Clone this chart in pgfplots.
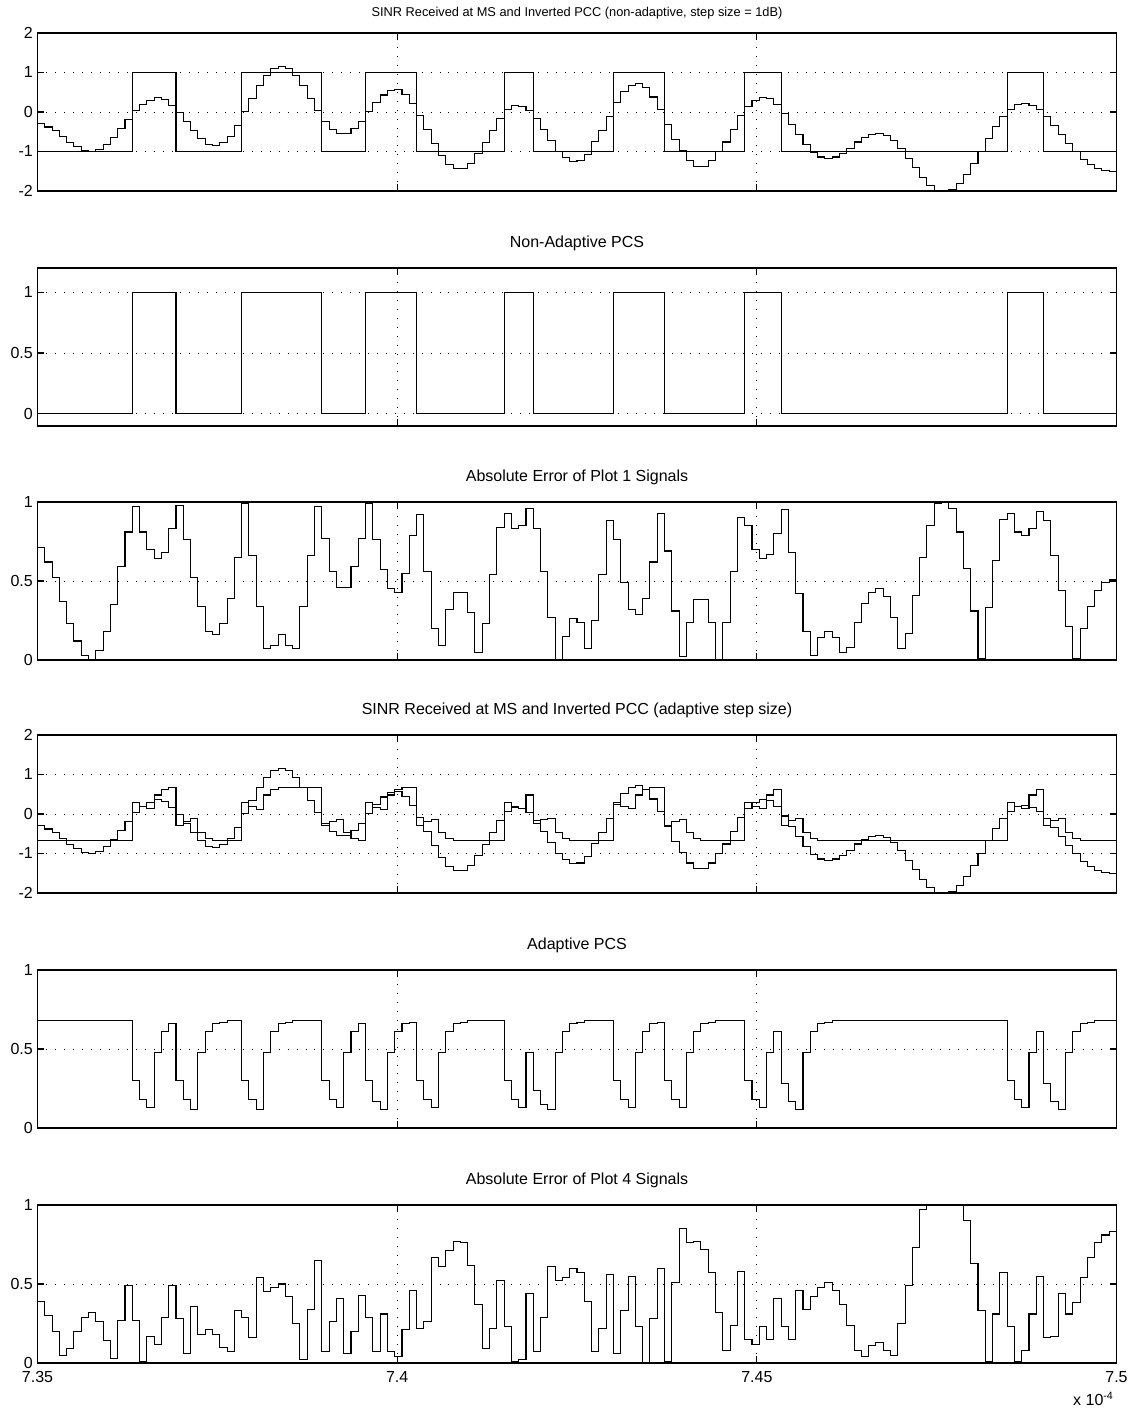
\documentclass[border=0pt]{standalone}
\usepackage{pgfplots}
\usepackage{pgfplotstable}
\pgfplotsset{compat=1.18}
\usepackage{fontspec}
\setmainfont{Liberation Sans}

\pgfplotstableread{
n s q e1 b a p e2
0 -0.29 -1 0.71 0 0.68 -0.68 0.39
1 -0.38 -1 0.62 0 0.68 -0.68 0.30
2 -0.48 -1 0.52 0 0.68 -0.68 0.20
3 -0.63 -1 0.37 0 0.68 -0.68 0.05
4 -0.77 -1 0.23 0 0.68 -0.68 0.09
5 -0.88 -1 0.12 0 0.68 -0.68 0.20
6 -0.97 -1 0.03 0 0.68 -0.68 0.29
7 -1.00 -1 0.00 0 0.68 -0.68 0.32
8 -0.94 -1 0.06 0 0.68 -0.68 0.26
9 -0.82 -1 0.18 0 0.68 -0.68 0.14
10 -0.65 -1 0.35 0 0.68 -0.68 0.03
11 -0.41 -1 0.59 0 0.68 -0.68 0.27
12 -0.19 -1 0.81 0 0.68 -0.68 0.49
13 0.03 1 0.97 1 0.30 0.30 0.27
14 0.19 1 0.81 1 0.18 0.18 0.01
15 0.30 1 0.70 1 0.13 0.13 0.17
16 0.36 1 0.64 1 0.48 0.48 0.12
17 0.32 1 0.68 1 0.61 0.61 0.29
18 0.17 1 0.83 1 0.66 0.66 0.49
19 -0.02 -1 0.98 0 0.30 -0.30 0.28
20 -0.24 -1 0.76 0 0.18 -0.18 0.06
21 -0.48 -1 0.52 0 0.12 -0.12 0.36
22 -0.66 -1 0.34 0 0.48 -0.48 0.18
23 -0.82 -1 0.18 0 0.61 -0.61 0.21
24 -0.84 -1 0.16 0 0.66 -0.66 0.18
25 -0.77 -1 0.23 0 0.67 -0.67 0.10
26 -0.61 -1 0.39 0 0.68 -0.68 0.07
27 -0.35 -1 0.65 0 0.68 -0.68 0.33
28 0.01 1 0.99 1 0.30 0.30 0.29
29 0.34 1 0.66 1 0.18 0.18 0.16
30 0.66 1 0.34 1 0.12 0.12 0.54
31 0.93 1 0.07 1 0.48 0.48 0.45
32 1.09 1 0.09 1 0.61 0.61 0.48
33 1.16 1 0.16 1 0.66 0.66 0.50
34 1.09 1 0.09 1 0.67 0.67 0.42
35 0.93 1 0.07 1 0.68 0.68 0.25
36 0.66 1 0.34 1 0.68 0.68 0.02
37 0.34 1 0.66 1 0.68 0.68 0.34
38 0.03 1 0.97 1 0.68 0.68 0.65
39 -0.23 -1 0.77 0 0.30 -0.30 0.07
40 -0.44 -1 0.56 0 0.18 -0.18 0.26
41 -0.54 -1 0.46 0 0.13 -0.13 0.41
42 -0.54 -1 0.46 0 0.48 -0.48 0.06
43 -0.41 -1 0.59 0 0.61 -0.61 0.20
44 -0.23 -1 0.77 0 0.66 -0.66 0.43
45 0.01 1 0.99 1 0.30 0.30 0.29
46 0.24 1 0.76 1 0.17 0.17 0.07
47 0.43 1 0.57 1 0.12 0.12 0.31
48 0.55 1 0.45 1 0.48 0.48 0.07
49 0.57 1 0.43 1 0.61 0.61 0.04
50 0.45 1 0.55 1 0.66 0.66 0.21
51 0.21 1 0.79 1 0.67 0.67 0.46
52 -0.08 -1 0.92 0 0.30 -0.30 0.22
53 -0.44 -1 0.56 0 0.18 -0.18 0.26
54 -0.80 -1 0.20 0 0.13 -0.13 0.67
55 -1.09 -1 0.09 0 0.48 -0.48 0.61
56 -1.32 -1 0.32 0 0.61 -0.61 0.71
57 -1.43 -1 0.43 0 0.66 -0.66 0.77
58 -1.43 -1 0.43 0 0.67 -0.67 0.76
59 -1.30 -1 0.30 0 0.68 -0.68 0.62
60 -1.05 -1 0.05 0 0.68 -0.68 0.37
61 -0.77 -1 0.23 0 0.68 -0.68 0.09
62 -0.46 -1 0.54 0 0.68 -0.68 0.22
63 -0.16 -1 0.84 0 0.68 -0.68 0.52
64 0.07 1 0.93 1 0.30 0.30 0.23
65 0.17 1 0.83 1 0.18 0.18 0.01
66 0.15 1 0.85 1 0.13 0.13 0.02
67 0.04 1 0.96 1 0.48 0.48 0.44
68 -0.17 -1 0.83 0 0.24 -0.24 0.07
69 -0.44 -1 0.56 0 0.15 -0.15 0.29
70 -0.73 -1 0.27 0 0.12 -0.12 0.61
71 -1.00 -1 0.00 0 0.48 -0.48 0.52
72 -1.15 -1 0.15 0 0.61 -0.61 0.54
73 -1.26 -1 0.26 0 0.66 -0.66 0.60
74 -1.24 -1 0.24 0 0.67 -0.67 0.57
75 -1.07 -1 0.07 0 0.68 -0.68 0.39
76 -0.75 -1 0.25 0 0.68 -0.68 0.07
77 -0.46 -1 0.54 0 0.68 -0.68 0.22
78 -0.12 -1 0.88 0 0.68 -0.68 0.56
79 0.24 1 0.76 1 0.30 0.30 0.06
80 0.51 1 0.49 1 0.18 0.18 0.33
81 0.68 1 0.32 1 0.13 0.13 0.55
82 0.71 1 0.29 1 0.48 0.48 0.23
83 0.61 1 0.39 1 0.61 0.61 0.00
84 0.38 1 0.62 1 0.66 0.66 0.28
85 0.07 1 0.93 1 0.67 0.67 0.60
86 -0.31 -1 0.69 0 0.30 -0.30 0.01
87 -0.69 -1 0.31 0 0.18 -0.18 0.51
88 -0.98 -1 0.02 0 0.13 -0.13 0.85
89 -1.24 -1 0.24 0 0.48 -0.48 0.76
90 -1.38 -1 0.38 0 0.61 -0.61 0.77
91 -1.38 -1 0.38 0 0.66 -0.66 0.72
92 -1.24 -1 0.24 0 0.67 -0.67 0.57
93 -1.00 -1 0.00 0 0.68 -0.68 0.32
94 -0.76 -1 0.24 0 0.68 -0.68 0.08
95 -0.44 -1 0.56 0 0.68 -0.68 0.24
96 -0.10 -1 0.90 0 0.68 -0.68 0.58
97 0.15 1 0.85 1 0.30 0.30 0.15
98 0.30 1 0.70 1 0.18 0.18 0.12
99 0.36 1 0.64 1 0.13 0.13 0.23
100 0.33 1 0.67 1 0.48 0.48 0.15
101 0.20 1 0.80 1 0.61 0.61 0.41
102 -0.05 -1 0.95 0 0.28 -0.28 0.23
103 -0.32 -1 0.68 0 0.17 -0.17 0.15
104 -0.58 -1 0.42 0 0.12 -0.12 0.46
105 -0.82 -1 0.18 0 0.48 -0.48 0.34
106 -1.03 -1 0.03 0 0.61 -0.61 0.42
107 -1.14 -1 0.14 0 0.66 -0.66 0.48
108 -1.18 -1 0.18 0 0.67 -0.67 0.51
109 -1.14 -1 0.14 0 0.68 -0.68 0.46
110 -1.05 -1 0.05 0 0.68 -0.68 0.37
111 -0.92 -1 0.08 0 0.68 -0.68 0.24
112 -0.76 -1 0.24 0 0.68 -0.68 0.08
113 -0.64 -1 0.36 0 0.68 -0.68 0.04
114 -0.57 -1 0.43 0 0.68 -0.68 0.11
115 -0.55 -1 0.45 0 0.68 -0.68 0.13
116 -0.60 -1 0.40 0 0.68 -0.68 0.08
117 -0.73 -1 0.27 0 0.68 -0.68 0.05
118 -0.93 -1 0.07 0 0.68 -0.68 0.25
119 -1.17 -1 0.17 0 0.68 -0.68 0.49
120 -1.41 -1 0.41 0 0.68 -0.68 0.73
121 -1.65 -1 0.65 0 0.68 -0.68 0.97
122 -1.85 -1 0.85 0 0.68 -0.68 1.17
123 -1.99 -1 0.99 0 0.68 -0.68 1.31
124 -2.02 -1 1.02 0 0.68 -0.68 1.34
125 -1.96 -1 0.96 0 0.68 -0.68 1.28
126 -1.81 -1 0.81 0 0.68 -0.68 1.13
127 -1.58 -1 0.58 0 0.68 -0.68 0.90
128 -1.31 -1 0.31 0 0.68 -0.68 0.63
129 -1.01 -1 0.01 0 0.68 -0.68 0.33
130 -0.67 -1 0.33 0 0.68 -0.68 0.01
131 -0.37 -1 0.63 0 0.68 -0.68 0.31
132 -0.11 -1 0.89 0 0.68 -0.68 0.57
133 0.07 1 0.93 1 0.30 0.30 0.23
134 0.19 1 0.81 1 0.18 0.18 0.01
135 0.21 1 0.79 1 0.13 0.13 0.08
136 0.17 1 0.83 1 0.48 0.48 0.31
137 0.06 1 0.94 1 0.61 0.61 0.55
138 -0.12 -1 0.88 0 0.28 -0.28 0.16
139 -0.34 -1 0.66 0 0.17 -0.17 0.17
140 -0.56 -1 0.44 0 0.12 -0.12 0.44
141 -0.79 -1 0.21 0 0.48 -0.48 0.31
142 -0.99 -1 0.01 0 0.61 -0.61 0.38
143 -1.20 -1 0.20 0 0.66 -0.66 0.54
144 -1.34 -1 0.34 0 0.67 -0.67 0.67
145 -1.44 -1 0.44 0 0.68 -0.68 0.76
146 -1.49 -1 0.49 0 0.68 -0.68 0.81
147 -1.51 -1 0.51 0 0.68 -0.68 0.83
148 -1.51 -1 0.51 0 0.68 -0.68 0.83
}\data

\pgfplotsset{
  mat/.style={
    scale only axis, width=809.25pt, height=118.5pt,
    anchor=south west,
    xmin=0, xmax=148,
    xtick={0,49.3333,98.6667,148},
    xticklabels={},
    grid=major,
    major grid style={black, line width=0.6pt, dash pattern=on 0.7pt off 6pt},
    axis line style={black, line width=0.9pt},
    every tick/.style={black, line width=0.9pt},
    major tick length=5.25pt,
    tick align=inside,
    ticklabel style={font=\fontsize{12}{14}\selectfont},
    xticklabel style={yshift=-3pt},
    title style={font=\fontsize{12}{14}\selectfont, at={(0.5,1)}, anchor=base, yshift=9.5pt},
    clip=true,
  },
  sig/.style={black, line width=0.8pt, const plot, mark=none},
}

\begin{document}
\begin{tikzpicture}
\path[use as bounding box] (0,0) rectangle (849.75pt,1065pt);

\begin{axis}[mat, at={(28.125pt,921.75pt)},
  ymin=-2, ymax=2, ytick={-2,-1,0,1,2}, yticklabels={-2,-1,0,1,2},
  title style={font=\fontsize{9.6}{11}\selectfont, yshift=-3pt},
  title={SINR Received at MS and Inverted PCC (non-adaptive, step size = 1dB)}]
\addplot[sig] table[x=n,y=q]{\data};
\addplot[sig] table[x=n,y=s]{\data};
\end{axis}

\begin{axis}[mat, at={(28.125pt,745.5pt)},
  ymin=-0.1, ymax=1.2, ytick={0,0.5,1}, yticklabels={0,0.5,1},
  title={Non-Adaptive PCS}]
\addplot[sig] table[x=n,y=b]{\data};
\end{axis}

\begin{axis}[mat, at={(28.125pt,570pt)},
  ymin=0, ymax=1, ytick={0,0.5,1}, yticklabels={0,0.5,1},
  title={Absolute Error of Plot 1 Signals}]
\addplot[sig] table[x=n,y=e1]{\data};
\end{axis}

\begin{axis}[mat, at={(28.125pt,395.25pt)},
  ymin=-2, ymax=2, ytick={-2,-1,0,1,2}, yticklabels={-2,-1,0,1,2},
  title={SINR Received at MS and Inverted PCC (adaptive step size)}]
\addplot[sig] table[x=n,y=p]{\data};
\addplot[sig] table[x=n,y=s]{\data};
\end{axis}

\begin{axis}[mat, at={(28.125pt,219pt)},
  ymin=0, ymax=1, ytick={0,0.5,1}, yticklabels={0,0.5,1},
  title={Adaptive PCS}]
\addplot[sig] table[x=n,y=a]{\data};
\end{axis}

\begin{axis}[mat, at={(28.125pt,42.75pt)}, clip mode=individual,
  ymin=0, ymax=1, ytick={0,0.5,1}, yticklabels={0,0.5,1},
  xticklabels={7.35,7.4,7.45,7.5},
  title={Absolute Error of Plot 4 Signals}]
\addplot[sig] table[x=n,y=e2]{\data};
\node[anchor=base east, font=\fontsize{12}{14}\selectfont, inner sep=0pt]
  at (rel axis cs:1,0) [yshift=-31.5pt, xshift=-2pt] {x 10\textsuperscript{-4}};
\end{axis}
\end{tikzpicture}
\end{document}
